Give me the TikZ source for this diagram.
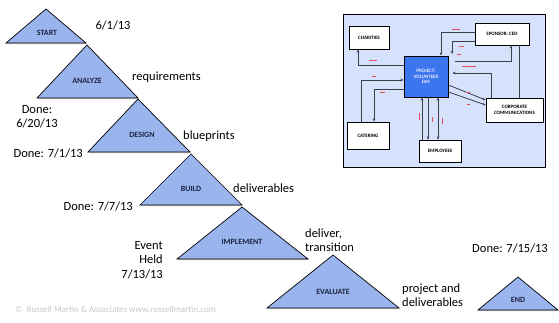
\documentclass[tikz,border=0pt]{standalone}
\usepackage{fontspec}
\setmainfont{Carlito}
\usepackage{xcolor}
\usetikzlibrary{arrows.meta, shadows}

\definecolor{phaseblue}{HTML}{9AB4EE}
\definecolor{panelblue}{HTML}{D6E2FB}
\definecolor{prjblue}{HTML}{3B76EE}
\definecolor{inkdark}{HTML}{1B2440}
\definecolor{wire}{HTML}{3C3F47}
\definecolor{tagred}{HTML}{E0505A}

\tikzset{
  phase/.style={fill=phaseblue, draw=black, line width=0.7pt, line join=miter,
    drop shadow={opacity=0.45, shadow xshift=0.6pt, shadow yshift=-1.2pt}},
  phaselabel/.style={font=\fontsize{8}{9}\selectfont\bfseries, text=inkdark, inner sep=0pt},
  note/.style={font=\fontsize{12.5}{14.5}\selectfont, text=black, inner sep=0pt},
  unit/.style={draw=black, fill=white, line width=0.8pt, inner sep=0pt, align=center,
    font=\fontsize{5}{5.8}\selectfont\bfseries,
    drop shadow={opacity=0.35, shadow xshift=0.8pt, shadow yshift=-0.8pt}},
  flow/.style={->, draw=wire, line width=0.8pt},
  tag/.style={draw=tagred, line width=0.5pt}
}

\begin{document}
\begin{tikzpicture}[x=1pt, y=-1pt, >={Stealth[length=3.2pt,width=2.6pt]}]
  \useasboundingbox (0,0) rectangle (559,323);

  % cascade of phases
  \draw[phase] (46,9) -- (86,43) -- (6,43) -- cycle;
  \draw[phase] (87,45) -- (138,98) -- (37,98) -- cycle;
  \draw[phase] (138,99) -- (190,152) -- (88,152) -- cycle;
  \draw[phase] (191,154) -- (242,205) -- (140,205) -- cycle;
  \draw[phase] (242,207) -- (308,259) -- (177,259) -- cycle;
  \draw[phase] (333,255) -- (399,308) -- (267,308) -- cycle;
  \draw[phase] (518,277) -- (558,310) -- (478,310) -- cycle;

  \node[phaselabel] (start) at (47,33) {START};
  \node[phaselabel] (analyze) at (87,81) {ANALYZE};
  \node[phaselabel] (design) at (142,135) {DESIGN};
  \node[phaselabel] (build) at (191,189) {BUILD};
  \node[phaselabel] (implement) at (242,242) {IMPLEMENT};
  \node[phaselabel] (evaluate) at (333,292) {EVALUATE};
  \node[phaselabel] (finish) at (518,300) {END};

  % dates and outputs
  \node[note] (d0) at (113,25) {6/1/13};
  \node[note, anchor=west] (o1) at (132,77) {requirements};
  \node[note, align=center] (d1) at (37,117) {Done:\\6/20/13};
  \node[note, anchor=west] (o2) at (183,136) {blueprints};
  \node[note, anchor=east] (d2) at (83,153) {Done: 7/1/13};
  \node[note, anchor=west] (o3) at (233,188) {deliverables};
  \node[note, anchor=east] (d3) at (133,206) {Done: 7/7/13};
  \node[note, anchor=east, align=right] (d4) at (163,260) {Event\\Held\\7/13/13};
  \node[note, anchor=west, align=left] (o4) at (305,240) {deliver,\\transition};
  \node[note] (d5) at (510,248) {Done: 7/15/13};
  \node[note, anchor=west, align=left] (o5) at (402,295) {project and\\deliverables};
  \node[anchor=west, inner sep=0pt, text=black!22, font=\fontsize{9}{10}\selectfont] (copy) at (15,309)
    {\textcopyright\ \ Russell Martin \& Associates www.russellmartin.com};

  % context panel
  \filldraw[fill=panelblue, draw=black, line width=0.9pt,
    drop shadow={opacity=0.4, shadow xshift=1pt, shadow yshift=-1pt}] (343,14) rectangle (545,167);

  \node[unit, minimum width=40pt, minimum height=23pt] (char) at (369,37.5) {CHARITIES};
  \node[unit, minimum width=44pt, minimum height=41pt, fill=prjblue, text=blue!8] (prj) at (426,76.5) {PROJECT:\\VOLUNTEER\\DAY};
  \node[unit, minimum width=54pt, minimum height=22pt] (spon) at (502,34) {SPONSOR: CEO};
  \node[unit, minimum width=57pt, minimum height=24pt] (corp) at (514.5,110) {CORPORATE\\COMMUNICATIONS};
  \node[unit, minimum width=42pt, minimum height=22pt] (emp) at (440,151) {EMPLOYEES};
  \node[unit, minimum width=42pt, minimum height=27pt] (cat) at (368,135.5) {CATERING};

  \coordinate (gap) at (452,54);
  \coordinate (tail) at (455,61);

  \draw[flow] ([yshift=11.5pt]prj.west) -| ([xshift=-11pt]char.south);
  \draw[flow] ([xshift=-7pt]cat.north) |- ([yshift=-3.5pt]prj.west);
  \draw[flow] ([yshift=-12.5pt]prj.west) -| ([xshift=6pt]cat.north);
  \draw[flow] ([yshift=2pt]spon.west) -| ([xshift=15pt]prj.north);
  \draw[flow] ([yshift=-7pt]spon.west) -| (gap);
  \draw[flow] (tail) -| ([xshift=9pt]spon.south);
  \draw[flow, shorten >=4pt] ([xshift=-23.5pt]corp.north) |- ([yshift=3.5pt]prj.east);
  \draw[draw=wire, line width=0.8pt] ([xshift=4.5pt]corp.north) -- ([xshift=4.5pt]corp.north |- spon.south);
  \draw[flow] ([yshift=-8.5pt]prj.east) -- ([yshift=10pt]corp.west);
  \draw[flow] ([yshift=-15.5pt]prj.east) -- ([yshift=5pt]corp.west);
  \draw[flow] ([xshift=-18pt]emp.north) -- ([xshift=-18pt]emp.north |- prj.south);
  \draw[flow] ([xshift=-12pt]emp.north |- prj.south) -- ([xshift=-12pt]emp.north);
  \draw[flow, <->] ([xshift=-2pt]emp.north) -- ([xshift=-2pt]emp.north |- prj.south);

  % unreadable red flow labels
  \foreach \x/\y/\w in {373/60/8, 374/76/4, 382/92/5, 456/29/8, 461/46/5, 459/54/4, 469/66/14, 468/92/4, 468/104/3}
    \draw[tag] (\x-\w/2,\y) -- (\x+\w/2,\y);
  \foreach \x/\y/\h in {419/117/7, 432/120/5, 442/121/6}
    \draw[tag] (\x,\y-\h/2) -- (\x,\y+\h/2);
\end{tikzpicture}
\end{document}
